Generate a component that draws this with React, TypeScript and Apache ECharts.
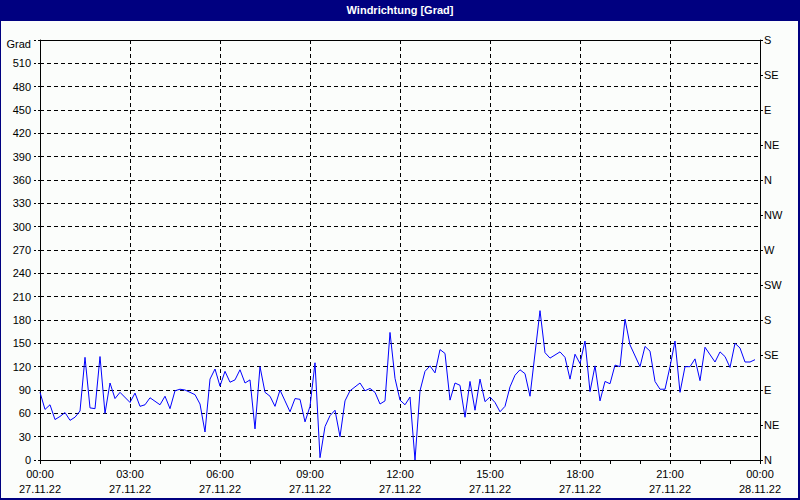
import React, { useEffect, useRef } from "react";
import * as echarts from "echarts";

const times: string[] = [
  "00:00","00:10","00:20","00:30","00:40","00:50","01:00","01:10","01:20","01:30","01:40","01:50",
  "02:00","02:10","02:20","02:30","02:40","03:00","03:10","03:20","03:30","03:40","04:00","04:10",
  "04:20","04:30","04:40","04:50","05:10","05:20","05:30","05:40","05:50","06:00","06:10","06:20",
  "06:30","06:40","06:50","07:00","07:10","07:20","07:30","07:40","07:50","08:00","08:10","08:20",
  "08:30","08:40","08:50","09:00","09:10","09:20","09:30","09:40","09:50","10:00","10:10","10:20",
  "10:40","10:50","11:00","11:10","11:20","11:30","11:40","11:50","12:00","12:10","12:20","12:30",
  "12:40","12:50","13:00","13:10","13:20","13:30","13:40","13:50","14:00","14:10","14:20","14:30",
  "14:40","14:50","15:00","15:10","15:20","15:30","15:40","15:50","16:00","16:10","16:20","16:40",
  "16:50","17:00","17:20","17:30","17:40","17:50","18:00","18:10","18:20","18:30","18:40","18:50",
  "19:00","19:10","19:20","19:30","19:40","20:00","20:10","20:20","20:30","20:40","20:50","21:00",
  "21:10","21:20","21:30","21:40","21:50","22:00","22:10","22:30","22:40","22:50","23:00","23:10",
  "23:20","23:30","23:40","23:50"
];

const windDirection: number[] = [
  87,65,71,52,56,61,51,55,63,132,67,66,
  133,60,99,79,87,74,86,69,71,80,71,82,
  66,89,91,90,84,72,36,104,117,95,114,100,
  103,116,99,103,40,120,87,82,69,90,76,62,
  79,78,49,69,125,3,43,57,64,30,76,89,
  99,89,92,87,72,76,164,105,77,71,81,0,
  89,114,121,112,142,137,77,99,96,55,101,64,
  104,75,81,74,62,69,94,109,116,111,82,192,
  138,131,139,132,104,136,124,153,88,121,76,101,
  98,122,120,181,148,120,146,140,101,91,91,120,
  153,87,120,120,130,102,145,126,139,133,119,150,
  144,126,126,129
];

const leftTopLabel = "Grad";
const compassLabels: string[] = ["N","NE","E","SE","S","SW","W","NW","N","NE","E","SE","S"];
const dateLabels: string[] = ["27.11.22", "28.11.22"];
const titleText = "Windrichtung [Grad]";

const FONT = "'Liberation Sans Narrow', 'Liberation Sans', Arial, sans-serif";

function toMinutes(t: string): number {
  const [h, m] = t.split(":").map(Number);
  return h * 60 + m;
}

export default function App() {
  const ref = useRef<HTMLDivElement>(null);

  useEffect(() => {
    if (!ref.current) return;
    const chart = echarts.init(ref.current, null, { renderer: "svg" });
    const data = times.map((t, i) => [toMinutes(t), windDirection[i]]);

    const axisLine = { show: true, onZero: false, lineStyle: { color: "#000", width: 1 } };
    const dashed = { show: true, lineStyle: { color: "#000", type: [4, 3] as any, width: 1 } };
    const labelStyle = { color: "#000", fontFamily: FONT, fontSize: 11 };

    chart.setOption({
      animation: false,
      backgroundColor: "#fbfdfb",
      grid: { left: 40, right: 40, top: 40, bottom: 40, containLabel: false },
      xAxis: [
        {
          type: "value",
          min: 0,
          max: 1440,
          interval: 180,
          position: "bottom",
          axisLine,
          axisTick: { show: true, length: 4, lineStyle: { color: "#000" } },
          minorTick: { show: true, splitNumber: 3, length: 4, lineStyle: { color: "#000" } },
          splitLine: dashed,
          axisLabel: {
            ...labelStyle,
            margin: 6,
            lineHeight: 15,
            showMinLabel: true,
            showMaxLabel: true,
            formatter: (v: number) => {
              const h = Math.floor(v / 60) % 24;
              const hh = (h < 10 ? "0" : "") + h + ":00";
              return hh + "\n" + (v >= 1440 ? dateLabels[1] : dateLabels[0]);
            },
          },
        },
        {
          type: "value",
          min: 0,
          max: 1440,
          position: "top",
          axisLine,
          axisTick: { show: false },
          axisLabel: { show: false },
          splitLine: { show: false },
        },
      ],
      yAxis: [
        {
          type: "value",
          min: 0,
          max: 540,
          interval: 30,
          position: "left",
          axisLine,
          axisTick: { show: true, length: 7, lineStyle: { color: "#000", type: [2, 2] as any } },
          minorTick: { show: false },
          splitLine: dashed,
          axisLabel: {
            ...labelStyle,
            margin: 9,
            formatter: (v: number) => (v >= 540 ? "{g|" + leftTopLabel + "}" : String(v)),
            rich: { g: { ...labelStyle, padding: [8, 0, 0, 0] } },
          },
        },
        {
          type: "value",
          min: 0,
          max: 540,
          interval: 45,
          position: "right",
          axisLine,
          axisTick: { show: true, length: 3, lineStyle: { color: "#000" } },
          minorTick: { show: false },
          splitLine: { show: false },
          axisLabel: {
            ...labelStyle,
            margin: 4,
            formatter: (v: number) => compassLabels[Math.round(v / 45)] ?? "",
          },
        },
      ],
      series: [
        {
          type: "line",
          data,
          xAxisIndex: 0,
          yAxisIndex: 0,
          showSymbol: false,
          symbol: "none",
          lineStyle: { color: "#0000ff", width: 1 },
          silent: true,
        },
      ],
      graphic: [
        {
          type: "rect",
          shape: { x: 0, y: 0, width: 799, height: 499 },
          style: { fill: "none", stroke: "#000080", lineWidth: 2 },
          silent: true,
        },
        {
          type: "rect",
          shape: { x: 0, y: 0, width: 800, height: 21 },
          style: { fill: "#000080" },
          silent: true,
        },
        {
          type: "text",
          x: 400,
          y: 10,
          style: {
            text: titleText,
            fill: "#fff",
            font: "bold 11px " + FONT,
            align: "center",
            verticalAlign: "middle",
          },
          silent: true,
        },
      ],
    });
    return () => chart.dispose();
  }, []);

  return (
    <div
      ref={ref}
      style={{ position: "fixed", left: 0, top: 0, width: 800, height: 500 }}
    />
  );
}
